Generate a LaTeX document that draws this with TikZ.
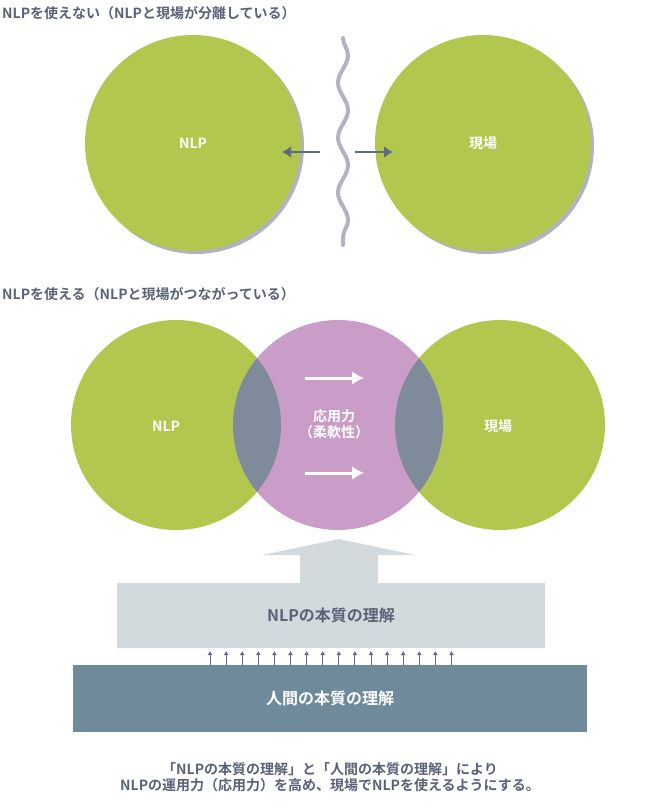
\documentclass[tikz,border=0pt]{standalone}
\usepackage{fontspec}
\setmainfont{Noto Sans CJK JP}[BoldFont={Noto Sans CJK JP Bold}]
\usetikzlibrary{decorations.pathmorphing,arrows.meta}
\definecolor{grn}{HTML}{B2C74D}
\definecolor{shd}{HTML}{B0B3C3}
\definecolor{pnk}{HTML}{C99DC8}
\definecolor{ovl}{HTML}{7F8A9B}
\definecolor{ttl}{HTML}{5B6277}
\definecolor{lgt}{HTML}{D3DADD}
\definecolor{drk}{HTML}{6E8A9B}
\definecolor{arr}{HTML}{626A85}
\begin{document}
\begin{tikzpicture}[x=1pt,y=-1pt,
  ttext/.style={font=\bfseries\fontsize{14}{16}\selectfont,text=ttl,anchor=west,inner sep=0},
  ctext/.style={font=\bfseries\fontsize{14}{16}\selectfont,text=white},
  darrow/.style={draw=arr,line width=2.5pt,-{Latex[length=9pt,width=12pt]}},
  warrow/.style={draw=white,line width=3pt,-{Latex[length=12pt,width=14pt]}},
  sarrow/.style={draw=arr,line width=1pt,-{Latex[length=4pt,width=5pt]}}]
\useasboundingbox (0,0) rectangle (650,810);
\node[ttext] (t1) at (2,13) {NLPを使えない（NLPと現場が分離している）};
% top circles
\fill[shd] (196,146) circle (108);
\fill[grn] (193,143) circle (108);
\fill[shd] (486,146) circle (108);
\fill[grn] (483,143) circle (108);
\node[ctext] (a) at (193,143) {NLP};
\node[ctext] (b) at (483,143) {現場};
\draw[shd,line width=4pt,line cap=round,decorate,decoration={snake,amplitude=5pt,segment length=55pt}] (343,38) -- (343,245);
\coordinate (la) at (320,152); \coordinate (lb) at (282,152);
\coordinate (ra) at (355,152); \coordinate (rb) at (393,152);
\draw[darrow] (la) -- (lb);
\draw[darrow] (ra) -- (rb);
\node[ttext] (t2) at (2,294) {NLPを使える（NLPと現場がつながっている）};
% venn
\fill[grn] (176,425) circle (105);
\fill[grn] (500,425) circle (105);
\fill[pnk] (338,425) circle (105);
\begin{scope}\clip (176,425) circle (105); \fill[ovl] (338,425) circle (105);\end{scope}
\begin{scope}\clip (500,425) circle (105); \fill[ovl] (338,425) circle (105);\end{scope}
\node[ctext] (c) at (166,426) {NLP};
\node[ctext] (d) at (498,426) {現場};
\node[ctext,align=center] (e) at (334,424) {応用力\\（柔軟性）};
\coordinate (w1) at (305,378); \coordinate (w2) at (364,378);
\coordinate (w3) at (305,473); \coordinate (w4) at (364,473);
\draw[warrow] (w1) -- (w2);
\draw[warrow] (w3) -- (w4);
% big arrow
\fill[lgt] (262,555) -- (339,539) -- (415,555) -- (378,555) -- (378,583) -- (545,583) -- (545,648) -- (117,648) -- (117,583) -- (300,583) -- (300,555) -- cycle;
\node[font=\bfseries\fontsize{16}{18}\selectfont,text=ttl] (f) at (331,615) {NLPの本質の理解};
\foreach \i in {0,...,15}{
  \coordinate (s\i) at ({210+\i*16.1},666);
  \coordinate (e\i) at ({210+\i*16.1},651);
  \draw[sarrow] (s\i) -- (e\i);}
\fill[drk] (73,665) rectangle (587,732);
\node[font=\bfseries\fontsize{16}{18}\selectfont,text=white] (g) at (330,698) {人間の本質の理解};
\node[font=\bfseries\fontsize{14}{16}\selectfont,text=ttl,align=center] (h) at (330,777)
  {「NLPの本質の理解」と「人間の本質の理解」により\\NLPの運用力（応用力）を高め、現場でNLPを使えるようにする。};
\end{tikzpicture}
\end{document}
